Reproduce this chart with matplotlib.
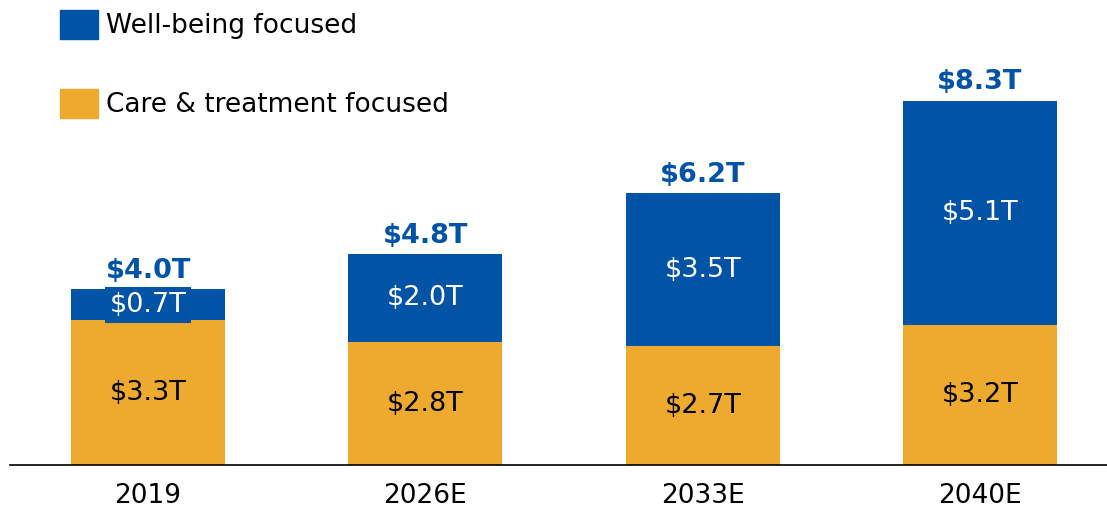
import matplotlib.pyplot as plt
from matplotlib.patches import Rectangle

years = ['2019', '2026E', '2033E', '2040E']
care = [3.3, 2.8, 2.7, 3.2]
wellbeing = [0.7, 2.0, 3.5, 5.1]
totals = [4.0, 4.8, 6.2, 8.3]

blue = '#0153A5'
orange = '#EEAA2E'

fig = plt.figure(figsize=(11.07, 5.08), dpi=100)
ax = fig.add_axes([10 / 1107, 43 / 508, 1097 / 1107, 439 / 508])

x = range(len(years))
ax.bar(x, care, width=0.555, color=orange)
ax.bar(x, wellbeing, width=0.555, bottom=care, color=blue)

for i in x:
    ax.text(i, care[i] / 2, f'${care[i]:.1f}T', ha='center', va='center',
            fontsize=19.5, color='black')
    box = None
    if wellbeing[i] < 1:
        box = dict(boxstyle='square,pad=0.18', facecolor=blue, edgecolor='none')
    ax.text(i, care[i] + wellbeing[i] / 2, f'${wellbeing[i]:.1f}T', ha='center',
            va='center', fontsize=19.5, color='white', bbox=box, zorder=3)
    ax.text(i, totals[i] + 0.12, f'${totals[i]:.1f}T', ha='center', va='bottom',
            fontsize=19.5, fontweight='bold', color=blue)

ax.set_xlim(-0.498, 3.458)
ax.set_ylim(0, 10)
ax.set_xticks(list(x))
ax.set_xticklabels(years, fontsize=19)
ax.tick_params(axis='x', length=0, pad=13)
ax.set_yticks([])
for s in ['top', 'right', 'left']:
    ax.spines[s].set_visible(False)
ax.spines['bottom'].set_linewidth(1.2)

# legend
fig.add_artist(Rectangle((60 / 1107, 1 - 39 / 508), 38 / 1107, 29 / 508,
                         transform=fig.transFigure, color=blue))
fig.add_artist(Rectangle((60 / 1107, 1 - 118 / 508), 38 / 1107, 29 / 508,
                         transform=fig.transFigure, color=orange))
fig.text(106 / 1107, 1 - 26 / 508, 'Well-being focused', fontsize=19, va='center')
fig.text(106 / 1107, 1 - 105 / 508, 'Care & treatment focused', fontsize=19, va='center')

plt.savefig('out.png')
plt.close()
